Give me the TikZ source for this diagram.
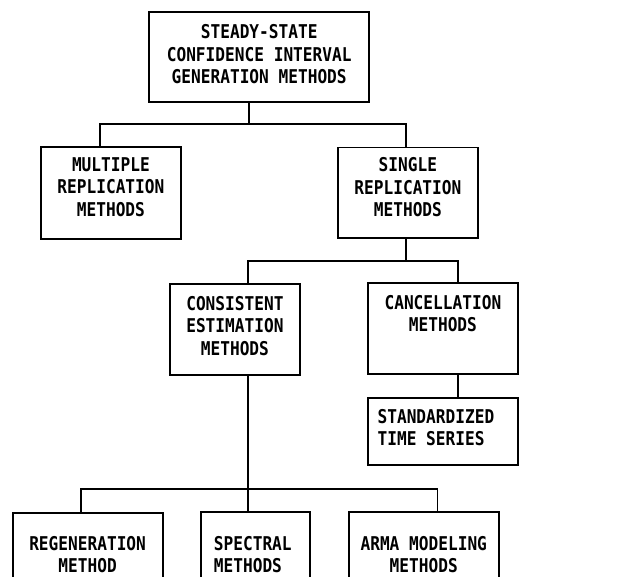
\documentclass[tikz,border=0pt]{standalone}
\usepackage{fontspec}
\newfontfamily\chartfont[FakeStretch=0.85]{DejaVu Sans Mono Bold}
\newcommand{\boxtext}[5]{\parbox[c][#2pt][t]{#1pt}{#4\vspace*{#3pt}#5}}
\tikzset{
	methodbox/.style={draw, line width=1.8pt, inner sep=0pt, anchor=north west, font={\chartfont\fontsize{19}{22.5}\selectfont}},
	link/.style={line width=1.8pt},
}

\begin{document}
\begin{tikzpicture}[x=1pt, y=-1pt]
		\useasboundingbox (0,0) rectangle (628,577);
		\clip (0,0) rectangle (628,577);
		% boxes
		\node[methodbox] (root) at (148.3,11) {\boxtext{220}{90}{13}{\centering}{STEADY-STATE\\CONFIDENCE INTERVAL\\GENERATION METHODS}};
		\node[methodbox] (multi) at (40,146) {\boxtext{140}{91.7}{10.7}{\centering}{MULTIPLE\\REPLICATION\\METHODS}};
		\node[methodbox] (single) at (337.3,146.7) {\boxtext{139.4}{90.6}{10}{\centering}{SINGLE\\REPLICATION\\METHODS}};
		\node[methodbox] (cons) at (169,283.3) {\boxtext{130}{90.7}{11.7}{\centering}{CONSISTENT\\ESTIMATION\\METHODS}};
		\node[methodbox] (canc) at (367.3,282.3) {\boxtext{149.4}{91}{12}{\centering}{CANCELLATION\\METHODS}};
		\node[methodbox] (stand) at (367.3,396.7) {\boxtext{149.4}{67.6}{11.7}{\raggedright\leftskip=9.4pt}{STANDARDIZED\\TIME SERIES}};
		\node[methodbox] (regen) at (11.7,511.7) {\boxtext{150}{80}{23.5}{\centering}{REGENERATION\\METHOD}};
		\node[methodbox] (spec) at (200,511) {\boxtext{109}{80}{24}{\raggedright\leftskip=13pt}{SPECTRAL\\METHODS}};
		\node[methodbox] (arma) at (347.7,511) {\boxtext{150.3}{80}{24}{\centering}{ARMA MODELING\\METHODS}};
		% tree lines
		\coordinate (j1) at (249.3,124);
		\coordinate (j2) at (406.3,260.7);
		\coordinate (j3) at (248.3,489.3);
		\draw[link] (root.south -| j1) -- (j1);
		\draw[link] ([xshift=-10.7]multi.north) |- (j1) -| (single.north -| j2);
		\draw[link] (single.south -| j2) -- (j2);
		\draw[link] (cons.north -| j3) |- (j2) -| ([xshift=14.7]canc.north);
		\draw[link] ([xshift=14.7]canc.south) -- ([xshift=14.7]stand.north);
		\draw[link] (cons.south -| j3) -- (j3);
		\draw[link] ([xshift=-6.7]regen.north) |- (j3) -| ([xshift=13.8]arma.north);
		\draw[link] (j3) -- (spec.north -| j3);
\end{tikzpicture}
\end{document}
